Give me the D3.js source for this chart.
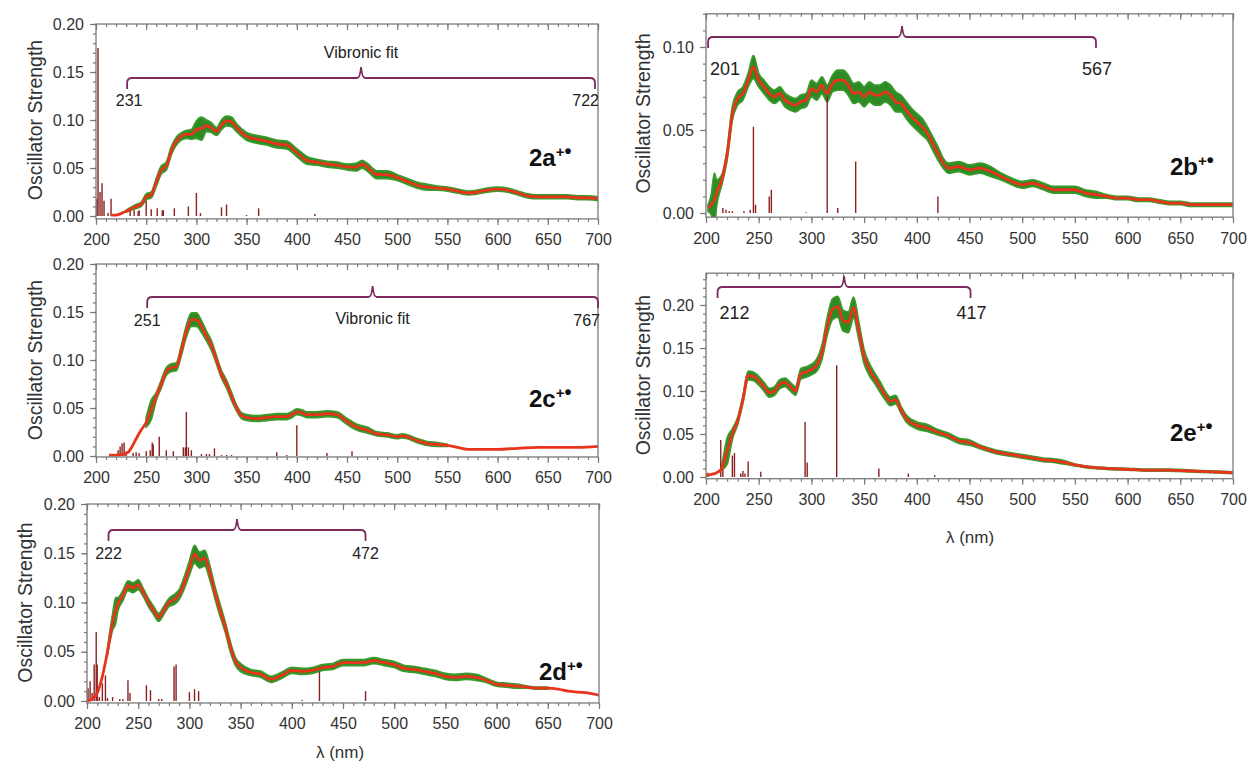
<!DOCTYPE html>
<html><head><meta charset="utf-8">
<script src="https://cdn.jsdelivr.net/npm/d3@7"></script>
<style>body{margin:0;background:#fff;} svg{display:block;} text{font-family:"Liberation Sans",Arial,sans-serif;}</style>
</head><body><svg id="c" width="1250" height="765"></svg>
<script>
// ---------- data ----------
const xTicks = [200,250,300,350,400,450,500,550,600,650,700];

const wl2a = [215,220,230,240,245,250,255,260,265,270,275,280,290,295,300,305,310,315,320,325,330,335,340,350,360,370,380,390,400,410,420,430,440,450,460,465,470,480,490,500,510,520,530,540,550,560,570,580,590,600,610,620,630,640,650,660,670,680,690,700];
const f2a = [0.001,0.001,0.005,0.010,0.012,0.020,0.022,0.035,0.048,0.052,0.068,0.078,0.085,0.085,0.090,0.091,0.094,0.092,0.088,0.095,0.099,0.098,0.092,0.083,0.080,0.078,0.075,0.074,0.066,0.058,0.056,0.054,0.053,0.051,0.051,0.054,0.051,0.043,0.043,0.040,0.036,0.032,0.030,0.029,0.028,0.026,0.024,0.025,0.027,0.028,0.027,0.024,0.021,0.020,0.020,0.020,0.020,0.019,0.019,0.018];
const band2a = [0,0,0.001,0.002,0.002,0.003,0.003,0.004,0.004,0.004,0.004,0.004,0.004,0.005,0.009,0.012,0.006,0.005,0.004,0.005,0.005,0.005,0.004,0.004,0.004,0.004,0.004,0.004,0.004,0.004,0.003,0.003,0.003,0.003,0.004,0.004,0.004,0.004,0.004,0.003,0.003,0.003,0.003,0.002,0.002,0.002,0.002,0.002,0.002,0.002,0.002,0.002,0.002,0.002,0.002,0.002,0.002,0.002,0.002,0.002];
const stickWl2a = [201,202,204,206,208,212,215,234,238,242,243,250,255,261,266,267,278,292,300,304,325,330,350,362,418];
const stickF2a = [0.018,0.175,0.025,0.034,0.016,0.003,0.018,0.007,0.006,0.005,0.006,0.016,0.007,0.008,0.006,0.006,0.008,0.010,0.024,0.003,0.009,0.012,0.001,0.008,0.002];

const wl2c = [213,220,228,232,236,240,245,250,255,260,265,270,275,280,285,290,295,300,305,310,315,320,325,330,335,340,345,350,360,370,380,390,395,400,405,410,420,430,440,450,460,470,480,490,500,505,510,520,530,540,550,560,570,580,600,620,640,660,680,700];
const f2c = [0.001,0.001,0.002,0.004,0.010,0.018,0.027,0.035,0.048,0.062,0.075,0.088,0.092,0.093,0.110,0.130,0.142,0.142,0.135,0.125,0.115,0.100,0.085,0.075,0.062,0.050,0.042,0.040,0.039,0.040,0.041,0.041,0.043,0.046,0.045,0.043,0.043,0.044,0.043,0.036,0.030,0.027,0.023,0.022,0.020,0.021,0.020,0.016,0.013,0.012,0.011,0.009,0.007,0.007,0.007,0.008,0.009,0.009,0.009,0.010];
const band2c = [0,0,0,0,0,0,0,0.005,0.010,0.004,0.004,0.004,0.004,0.004,0.005,0.006,0.007,0.007,0.006,0.005,0.005,0.004,0.004,0.004,0.004,0.003,0.003,0.003,0.003,0.003,0.003,0.003,0.003,0.003,0.003,0.003,0.003,0.003,0.003,0.003,0.003,0.003,0.002,0.002,0.002,0.002,0.002,0.002,0.002,0.002,0.001,0,0,0,0,0,0,0,0,0];
const stickWl2c = [218,222,224,226,228,230,237,240,243,250,254,256,257,263,270,277,287,289,290,292,295,305,310,313,318,325,330,335,380,390,400,430,455];
const stickF2c = [0.002,0.006,0.010,0.013,0.014,0.005,0.003,0.004,0.003,0.005,0.006,0.014,0.012,0.020,0.006,0.005,0.009,0.009,0.046,0.009,0.006,0.002,0.002,0.002,0.008,0.001,0.001,0.001,0.004,0.001,0.032,0.003,0.005];

const wl2d = [200,205,210,215,220,225,228,230,235,240,245,250,255,260,265,270,275,280,285,290,295,300,305,310,315,320,325,330,335,340,345,350,360,370,375,380,390,400,410,420,430,440,450,460,470,480,490,500,510,520,530,540,550,560,570,580,590,600,610,620,630,640,650,660,670,680,690,700];
const f2d = [0.000,0.002,0.008,0.025,0.050,0.080,0.092,0.098,0.107,0.117,0.115,0.118,0.110,0.100,0.092,0.085,0.092,0.100,0.103,0.108,0.120,0.135,0.149,0.143,0.145,0.130,0.110,0.092,0.075,0.055,0.040,0.034,0.029,0.027,0.024,0.022,0.026,0.031,0.030,0.031,0.034,0.035,0.039,0.039,0.039,0.041,0.039,0.037,0.033,0.032,0.030,0.028,0.025,0.024,0.025,0.024,0.021,0.017,0.016,0.015,0.014,0.013,0.013,0.012,0.010,0.009,0.008,0.006];
const band2d = [0,0,0,0,0.003,0.008,0.013,0.007,0.005,0.005,0.005,0.005,0.004,0.004,0.004,0.004,0.004,0.004,0.005,0.005,0.006,0.007,0.009,0.008,0.008,0.007,0.006,0.006,0.005,0.005,0.004,0.004,0.003,0.003,0.003,0.003,0.003,0.003,0.003,0.003,0.003,0.003,0.003,0.003,0.003,0.003,0.003,0.003,0.003,0.003,0.003,0.003,0.003,0.003,0.003,0.003,0.002,0.002,0.002,0.002,0.001,0.001,0.001,0,0,0,0,0];
const stickWl2d = [201,203,205,207,209,210,212,215,218,220,225,232,235,240,242,258,262,270,273,285,287,300,305,309,410,427,472];
const stickF2d = [0.013,0.020,0.008,0.037,0.070,0.037,0.004,0.018,0.026,0.003,0.004,0.002,0.002,0.021,0.008,0.016,0.011,0.002,0.002,0.035,0.037,0.009,0.012,0.010,0.001,0.030,0.010];

const wl2b = [202,205,208,210,215,220,225,230,235,240,245,250,255,260,265,270,275,280,285,290,295,300,305,310,315,320,325,330,335,340,345,350,355,360,365,370,375,380,385,390,395,400,405,410,415,420,425,430,440,450,460,470,480,490,500,510,520,530,540,550,560,570,580,590,600,610,620,630,640,650,660,670,680,690,700];
const f2b = [0.003,0.005,0.008,0.012,0.020,0.035,0.060,0.069,0.072,0.080,0.088,0.080,0.076,0.072,0.070,0.072,0.068,0.066,0.065,0.067,0.068,0.075,0.073,0.077,0.072,0.078,0.080,0.080,0.077,0.072,0.073,0.070,0.073,0.071,0.071,0.073,0.071,0.067,0.066,0.062,0.058,0.055,0.052,0.048,0.042,0.036,0.030,0.027,0.028,0.026,0.027,0.025,0.022,0.019,0.017,0.018,0.016,0.014,0.014,0.014,0.012,0.011,0.010,0.009,0.009,0.008,0.008,0.007,0.006,0.006,0.005,0.005,0.005,0.005,0.005];
const band2b = [0.002,0.006,0.016,0.008,0.003,0.003,0.004,0.004,0.004,0.004,0.007,0.004,0.004,0.004,0.004,0.004,0.004,0.004,0.004,0.004,0.004,0.005,0.005,0.005,0.005,0.005,0.006,0.006,0.006,0.006,0.006,0.006,0.006,0.006,0.006,0.006,0.006,0.006,0.005,0.005,0.005,0.005,0.005,0.004,0.004,0.004,0.003,0.003,0.003,0.003,0.003,0.003,0.002,0.002,0.002,0.002,0.002,0.002,0.002,0.002,0.002,0.002,0.001,0.001,0.001,0.001,0.001,0.001,0.001,0.001,0.001,0.001,0.001,0.001,0.001];
const stickWl2b = [216,219,222,225,236,242,245,247,260,262,295,315,325,342,420];
const stickF2b = [0.003,0.002,0.001,0.001,0.001,0.002,0.052,0.005,0.010,0.014,0.0005,0.070,0.003,0.031,0.010];

const wl2e = [200,205,210,215,220,225,230,235,240,245,250,255,260,265,270,275,280,285,290,295,300,305,310,315,320,325,330,335,340,345,350,355,360,365,370,375,380,385,390,400,410,420,430,440,450,460,470,480,490,500,510,520,530,540,550,560,580,600,620,640,660,680,700];
const f2e = [0.002,0.003,0.005,0.010,0.030,0.050,0.065,0.090,0.118,0.117,0.112,0.105,0.098,0.100,0.108,0.110,0.105,0.100,0.120,0.122,0.125,0.130,0.145,0.175,0.195,0.198,0.182,0.180,0.197,0.170,0.140,0.125,0.115,0.105,0.095,0.088,0.090,0.078,0.068,0.060,0.057,0.052,0.048,0.042,0.040,0.035,0.031,0.028,0.026,0.024,0.022,0.020,0.019,0.017,0.014,0.012,0.010,0.009,0.008,0.008,0.007,0.006,0.005];
const band2e = [0,0,0,0.002,0.015,0.006,0.004,0.004,0.005,0.005,0.005,0.005,0.005,0.005,0.005,0.005,0.005,0.005,0.006,0.006,0.006,0.007,0.008,0.010,0.012,0.012,0.012,0.012,0.012,0.010,0.008,0.007,0.006,0.006,0.005,0.005,0.005,0.004,0.004,0.004,0.004,0.003,0.003,0.003,0.003,0.002,0.002,0.002,0.002,0.002,0.002,0.002,0.002,0.002,0.001,0.001,0.001,0.001,0.001,0.001,0.001,0.001,0.001];
const stickWl2e = [202,214,216,225,227,233,235,237,240,252,294,296,324,364,392,417];
const stickF2e = [0.005,0.043,0.008,0.025,0.028,0.004,0.007,0.004,0.018,0.006,0.064,0.017,0.130,0.010,0.004,0.002];

// fit-range labels and drawn bracket extents (nm)
const fitLabels2a = ["231","722"], fitSpan2a = [231,697];
const fitLabels2c = ["251","767"], fitSpan2c = [251,700];
const fitLabels2d = ["222","472"], fitSpan2d = [221,472];
const fitLabels2b = ["201","567"], fitSpan2b = [202,570];
const fitLabels2e = ["212","417"], fitSpan2e = [211,451];

// ---------- layout ----------
const panels = [
  {name:"2a", wl:wl2a, f:f2a, band:band2a, sw:stickWl2a, sf:stickF2a, fitL:fitLabels2a, fitS:fitSpan2a,
   left:96, right:598, zeroPx:216, refPx:24, refVal:0.2, ymin:-0.003, ymax:0.2, yt:[0,0.05,0.1,0.15,0.2],
   brY:78, brLblY:100, anchors:["middle","end"], lblDx:[2,4], lblSize:16, vib:{y:52},
   tag:{x:529,y:166}, yTitleX:35, xTitle:null},
  {name:"2c", wl:wl2c, f:f2c, band:band2c, sw:stickWl2c, sf:stickF2c, fitL:fitLabels2c, fitS:fitSpan2c,
   left:96, right:598, zeroPx:456, refPx:264, refVal:0.2, ymin:-0.001, ymax:0.2, yt:[0,0.05,0.1,0.15,0.2],
   brY:297, brLblY:320, anchors:["middle","end"], lblDx:[0,2], lblSize:16, vib:{y:318},
   tag:{x:529,y:407}, yTitleX:35, xTitle:null},
  {name:"2d", wl:wl2d, f:f2d, band:band2d, sw:stickWl2d, sf:stickF2d, fitL:fitLabels2d, fitS:fitSpan2d,
   left:87, right:599, zeroPx:701, refPx:504, refVal:0.2, ymin:-0.002, ymax:0.2, yt:[0,0.05,0.1,0.15,0.2],
   brY:530, brLblY:553, anchors:["middle","middle"], lblDx:[0,0], lblSize:16, vib:null,
   tag:{x:539,y:680}, yTitleX:25, xTitle:{x:340,y:752}},
  {name:"2b", wl:wl2b, f:f2b, band:band2b, sw:stickWl2b, sf:stickF2b, fitL:fitLabels2b, fitS:fitSpan2b,
   left:706, right:1233, zeroPx:213, refPx:47, refVal:0.1, ymin:-0.0025, ymax:0.12, yt:[0,0.05,0.1],
   brY:37, brLblY:69, anchors:["start","middle"], lblDx:[2,1], lblSize:18, vib:null,
   tag:{x:1170,y:175}, yTitleX:643, xTitle:null},
  {name:"2e", wl:wl2e, f:f2e, band:band2e, sw:stickWl2e, sf:stickF2e, fitL:fitLabels2e, fitS:fitSpan2e,
   left:706, right:1233, zeroPx:477, refPx:305, refVal:0.2, ymin:-0.002, ymax:0.237, yt:[0,0.05,0.1,0.15,0.2],
   brY:287, brLblY:313, anchors:["start","middle"], lblDx:[2,1], lblSize:18, vib:null,
   tag:{x:1170,y:441}, yTitleX:643, xTitle:{x:970,y:537}}
];

const svg = d3.select("#c");
const AX = "#7a7a7a", TXT = "#333";

panels.forEach((p, i) => {
  const x = d3.scaleLinear().domain([200,700]).range([p.left, p.right]);
  const y = d3.scaleLinear().domain([0, p.refVal]).range([p.zeroPx, p.refPx]);
  const top = y(p.ymax), bot = y(p.ymin);
  const g = svg.append("g");

  g.append("clipPath").attr("id","clip"+i).append("rect")
    .attr("x", p.left).attr("y", top).attr("width", p.right - p.left).attr("height", bot - top);
  const plot = g.append("g").attr("clip-path", `url(#clip${i})`);

  const pts = p.wl.map((w, k) => ({w, f:p.f[k], b:p.band[k]}));

  // green uncertainty band
  const area = d3.area().defined(d => d.b > 0)
    .x(d => x(d.w)).y0(d => y(d.f - d.b)).y1(d => y(d.f + d.b)).curve(d3.curveMonotoneX);
  plot.append("path").datum(pts).attr("d", area)
    .attr("fill", "#2e8b24").attr("stroke", "#3a9a2c").attr("stroke-width", 1.8).attr("stroke-linejoin","round");

  // stick spectrum
  plot.selectAll("line.stick").data(p.sw.map((w,k)=>({w, f:p.sf[k]}))).join("line")
    .attr("class","stick")
    .attr("x1", d => x(d.w)).attr("x2", d => x(d.w))
    .attr("y1", y(0)).attr("y2", d => y(d.f))
    .attr("stroke", "#8a2020").attr("stroke-width", 1.4);

  // red fitted curve
  const line = d3.line().x(d => x(d.w)).y(d => y(d.f)).curve(d3.curveMonotoneX);
  plot.append("path").datum(pts).attr("d", line)
    .attr("fill","none").attr("stroke","#e8341c").attr("stroke-width", 2.8).attr("stroke-linejoin","round");

  // frame
  g.append("rect").attr("x", p.left).attr("y", top).attr("width", p.right - p.left).attr("height", bot - top)
    .attr("fill","none").attr("stroke", AX).attr("stroke-width", 1.3);

  const minorX = d3.range(200, 701, 10);
  const minorY = d3.range(0, p.ymax + 1e-9, 0.01);

  const styleAxis = sel => { sel.select(".domain").remove(); sel.selectAll("line").attr("stroke", AX).attr("stroke-width",1.2);
    sel.selectAll("text").attr("fill", TXT).style("font-size","16px").style("font-family",'"Liberation Sans",Arial,sans-serif'); };

  // bottom axis (outward)
  g.append("g").attr("transform", `translate(0,${bot})`)
    .call(d3.axisBottom(x).tickValues(minorX).tickSize(3).tickFormat("")).call(styleAxis);
  g.append("g").attr("transform", `translate(0,${bot})`)
    .call(d3.axisBottom(x).tickValues(xTicks).tickSize(6).tickPadding(9).tickFormat(d3.format("d"))).call(styleAxis);
  // top axis (inward)
  g.append("g").attr("transform", `translate(0,${top})`)
    .call(d3.axisTop(x).tickValues(minorX).tickSize(-3).tickFormat("")).call(styleAxis);
  g.append("g").attr("transform", `translate(0,${top})`)
    .call(d3.axisTop(x).tickValues(xTicks).tickSize(-6).tickFormat("")).call(styleAxis);
  // left axis (outward)
  g.append("g").attr("transform", `translate(${p.left},0)`)
    .call(d3.axisLeft(y).tickValues(minorY).tickSize(3).tickFormat("")).call(styleAxis);
  g.append("g").attr("transform", `translate(${p.left},0)`)
    .call(d3.axisLeft(y).tickValues(p.yt).tickSize(6).tickPadding(6).tickFormat(d3.format(".2f"))).call(styleAxis);

  // y title
  g.append("text").attr("transform", `translate(${p.yTitleX},${(top + y(0)) / 2}) rotate(-90)`)
    .attr("text-anchor","middle").attr("dominant-baseline","central")
    .attr("fill", TXT).style("font-size","19.5px").text("Oscillator Strength");

  if (p.xTitle) {
    g.append("text").attr("x", p.xTitle.x).attr("y", p.xTitle.y).attr("text-anchor","middle")
      .attr("dominant-baseline","central").attr("fill", TXT).style("font-size","17px").text("λ (nm)");
  }

  // fit-range bracket
  const bx1 = x(p.fitS[0]), bx2 = x(p.fitS[1]), bm = (bx1 + bx2) / 2, by = p.brY, r = 5, drop = 11, spike = 11;
  const path = `M${bx1},${by+drop} L${bx1},${by+r} Q${bx1},${by} ${bx1+r},${by} L${bm-4},${by} Q${bm-1},${by} ${bm},${by-spike} Q${bm+1},${by} ${bm+4},${by} L${bx2-r},${by} Q${bx2},${by} ${bx2},${by+r} L${bx2},${by+drop}`;
  g.append("path").attr("d", path).attr("fill","none").attr("stroke","#7d2a5e").attr("stroke-width",1.8);
  [bx1, bx2].forEach((bx, k) => {
    g.append("text").attr("x", bx + p.lblDx[k]).attr("y", p.brLblY).attr("text-anchor", p.anchors[k])
      .attr("dominant-baseline","central").attr("fill", "#222").style("font-size", p.lblSize + "px").text(p.fitL[k]);
  });
  if (p.vib) {
    g.append("text").attr("x", bm).attr("y", p.vib.y).attr("text-anchor","middle").attr("dominant-baseline","central")
      .attr("fill","#222").style("font-size","16px").text("Vibronic fit");
  }

  // compound tag
  const t = g.append("text").attr("x", p.tag.x).attr("y", p.tag.y).attr("fill","#111")
    .style("font-weight","bold").style("font-size","24px");
  t.append("tspan").text(p.name);
  t.append("tspan").attr("dy", -9).style("font-size","15px").text("+");
  t.append("tspan").attr("dy", 1).style("font-size","20px").text("•");
});
</script></body></html>
